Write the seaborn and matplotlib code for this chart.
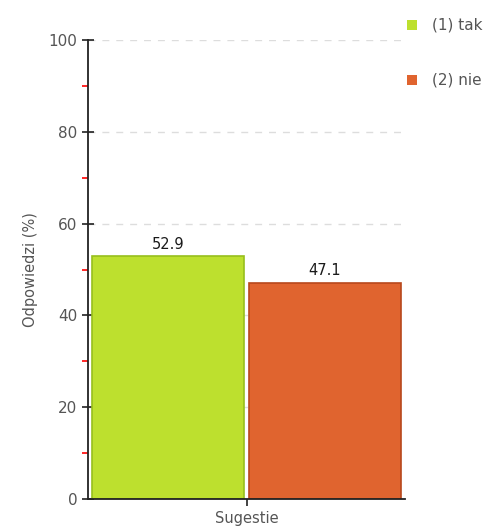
import pandas as pd
import matplotlib
matplotlib.use("Agg")
import matplotlib.pyplot as plt
from matplotlib.ticker import MultipleLocator
import seaborn as sns

# data
category = ["Sugestie", "Sugestie"]
answers = ["(1) tak", "(2) nie"]
percent = [52.9, 47.1]
colors = ["#bde02e", "#e0642f"]
edges = ["#97bf1c", "#b8481c"]

df = pd.DataFrame({"Pytanie": category, "Odpowiedz": answers, "Procent": percent})

sns.set_style("white")
plt.rcParams['font.family'] = ['DejaVu Sans']

fig = plt.figure(figsize=(5.04, 5.27), dpi=100)
ax = fig.add_axes([88 / 504, 1 - 499 / 527, 317 / 504, 459 / 527])

sns.barplot(data=df, x="Pytanie", y="Procent", hue="Odpowiedz",
            palette=colors, saturation=1, width=0.99, gap=0.035,
            ax=ax, legend=False)

for patch, ec in zip(ax.patches, edges):
    patch.set_edgecolor(ec)
    patch.set_linewidth(1.2)

for patch, val in zip(ax.patches, percent):
    ax.text(patch.get_x() + patch.get_width() / 2, val + 1.0, f"{val:.1f}",
            ha="center", va="bottom", fontsize=10.5, color="#1a1a1a")

ax.set_xlim(-0.5, 0.5)
ax.set_ylim(0, 100)
ax.yaxis.set_major_locator(MultipleLocator(20))
ax.yaxis.set_minor_locator(MultipleLocator(10))
ax.grid(axis="y", which="major", linestyle=(0, (5, 5)), color="#dddddd", linewidth=1)
ax.set_axisbelow(True)

for side in ["top", "right"]:
    ax.spines[side].set_visible(False)
for side in ["left", "bottom"]:
    ax.spines[side].set_color("#222222")
    ax.spines[side].set_linewidth(1.3)

ax.tick_params(axis="y", which="major", direction="inout", length=8, width=1.2,
               color="#222222", labelsize=11, labelcolor="#555555", left=True)
ax.tick_params(axis="y", which="minor", direction="out", length=4, width=1.2,
               color="red", left=True)
ax.tick_params(axis="x", direction="out", length=5, width=1.2, color="#222222",
               labelsize=10.5, labelcolor="#555555", bottom=True, pad=4)
ax.set_xticks([0])
ax.set_xticklabels(["Sugestie"])
ax.set_xlabel("")
ax.set_ylabel("Odpowiedzi (%)", fontsize=10.5, color="#555555", labelpad=8)

# legend on the right, partly outside the figure
for i, (lab, c) in enumerate(zip(answers, colors)):
    y = 1 - (25 + 55 * i) / 527
    fig.patches.append(plt.Rectangle((407 / 504, y - 5 / 527), 10 / 504, 10 / 527,
                                     transform=fig.transFigure, facecolor=c,
                                     edgecolor="none", figure=fig))
    fig.text(432 / 504, y, lab, fontsize=11, color="#555555", va="center", ha="left")

fig.savefig("out.png", dpi=100)
